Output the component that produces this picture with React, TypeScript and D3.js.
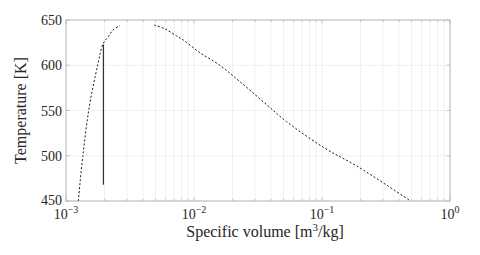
import React, { useEffect, useRef } from 'react';
import * as d3 from 'd3';

// saturated liquid branch [specific volume m3/kg, temperature K]
const liquidVol = [0.001248, 0.001351, 0.001521, 0.001769, 0.001956, 0.00214, 0.00233, 0.002643];
const liquidTemp = [450, 498.9, 554.2, 600.3, 624.3, 631.5, 639, 643.7];

// saturated vapour branch
const vaporVol = [0.00487, 0.005934, 0.007323, 0.008249, 0.01114, 0.01596, 0.02288, 0.03478, 0.05298, 0.1055, 0.1867, 0.487];
const vaporTemp = [644.5, 640.1, 632.3, 627.9, 613.8, 599.8, 581.8, 559.7, 537.6, 508.2, 488.7, 450.5];

// process line (isochoric)
const processVol = [0.00196, 0.00196];
const processTemp = [623, 468];

const yTicks = [450, 500, 550, 600, 650];
const xTickExps = [-3, -2, -1, 0];

const App: React.FC = () => {
  const ref = useRef<SVGSVGElement>(null);

  useEffect(() => {
    const margin = { top: 20, right: 30, bottom: 54, left: 66 };
    const width = 480 - margin.left - margin.right;
    const height = 255 - margin.top - margin.bottom;

    const root = d3.select(ref.current);
    root.selectAll('*').remove();
    root.attr('width', 480).attr('height', 255);

    const svg = root.append('g').attr('transform', `translate(${margin.left},${margin.top})`);

    const x = d3.scaleLog().domain([1e-3, 1]).range([0, width]);
    const y = d3.scaleLinear().domain([450, 650]).range([height, 0]);

    const minor: number[] = [];
    xTickExps.slice(0, -1).forEach(e => {
      for (let k = 2; k <= 9; k++) minor.push(k * Math.pow(10, e));
    });
    const major = xTickExps.map(e => Math.pow(10, e));

    // grid
    const grid = svg.append('g').attr('stroke', '#ececec').attr('stroke-width', 0.8);
    grid.selectAll('line.vx')
      .data([...minor, ...major])
      .join('line')
      .attr('x1', d => x(d)).attr('x2', d => x(d))
      .attr('y1', 0).attr('y2', height);
    grid.selectAll('line.hy')
      .data(yTicks)
      .join('line')
      .attr('x1', 0).attr('x2', width)
      .attr('y1', d => y(d)).attr('y2', d => y(d));

    // box + ticks
    const tickColor = '#b8b8b8';
    svg.append('rect')
      .attr('width', width).attr('height', height)
      .attr('fill', 'none').attr('stroke', tickColor).attr('stroke-width', 1);

    const ticks = svg.append('g').attr('stroke', tickColor).attr('stroke-width', 0.8);
    const xt = [...major.map(d => ({ v: d, l: 3.5 })), ...minor.map(d => ({ v: d, l: 2 }))];
    ticks.selectAll('line.xb').data(xt).join('line')
      .attr('x1', d => x(d.v)).attr('x2', d => x(d.v))
      .attr('y1', height).attr('y2', d => height - d.l);
    ticks.selectAll('line.xt').data(xt).join('line')
      .attr('x1', d => x(d.v)).attr('x2', d => x(d.v))
      .attr('y1', 0).attr('y2', d => d.l);
    ticks.selectAll('line.yl').data(yTicks).join('line')
      .attr('x1', 0).attr('x2', 3.5)
      .attr('y1', d => y(d)).attr('y2', d => y(d));
    ticks.selectAll('line.yr').data(yTicks).join('line')
      .attr('x1', width).attr('x2', width - 3.5)
      .attr('y1', d => y(d)).attr('y2', d => y(d));

    const font = '"Liberation Serif", "DejaVu Serif", serif';
    const txt = '#262626';

    // y tick labels
    svg.selectAll('text.yl').data(yTicks).join('text')
      .attr('x', -4).attr('y', d => y(d))
      .attr('dy', d => (d === 450 ? '0.25em' : '0.36em'))
      .attr('text-anchor', 'end')
      .attr('font-family', font).attr('font-size', 14).attr('fill', txt)
      .text(d => d);

    // x tick labels 10^e
    const xl = svg.selectAll('text.xl').data(xTickExps).join('text')
      .attr('x', d => x(Math.pow(10, d)))
      .attr('y', height + 18)
      .attr('text-anchor', 'middle')
      .attr('font-family', font).attr('font-size', 14).attr('fill', txt);
    xl.append('tspan').text('10');
    xl.append('tspan')
      .attr('font-size', 10).attr('dy', -6)
      .text(d => (d < 0 ? '\u2212' + -d : String(d)));

    // axis labels
    const xlab = svg.append('text')
      .attr('x', width / 2 + 7).attr('y', height + 36)
      .attr('text-anchor', 'middle')
      .attr('font-family', font).attr('font-size', 16).attr('fill', txt);
    xlab.append('tspan').text('Specific volume [m');
    xlab.append('tspan').attr('font-size', 11).attr('dy', -6).text('3');
    xlab.append('tspan').attr('dy', 6).text('/kg]');

    svg.append('text')
      .attr('transform', `translate(${-40},${height / 2}) rotate(-90)`)
      .attr('text-anchor', 'middle')
      .attr('font-family', font).attr('font-size', 16).attr('fill', txt)
      .text('Temperature [K]');

    const liquid = liquidVol.map((v, i) => [v, liquidTemp[i]] as [number, number]);
    const vapor = vaporVol.map((v, i) => [v, vaporTemp[i]] as [number, number]);
    const proc = processVol.map((v, i) => [v, processTemp[i]] as [number, number]);

    const curve = d3.line<[number, number]>()
      .x(d => x(d[0]))
      .y(d => y(d[1]))
      .curve(d3.curveCatmullRom);

    const plot = svg.append('g');
    [liquid, vapor].forEach(data => {
      plot.append('path')
        .attr('d', curve(data))
        .attr('fill', 'none')
        .attr('stroke', '#1a1a1a')
        .attr('stroke-width', 1)
        .attr('stroke-dasharray', '2,2');
    });

    plot.append('path')
      .attr('d', d3.line<[number, number]>().x(d => x(d[0])).y(d => y(d[1]))(proc))
      .attr('fill', 'none')
      .attr('stroke', '#333')
      .attr('stroke-width', 1.2);
  }, []);

  return <svg ref={ref} style={{ display: 'block', position: 'absolute', left: 0, top: 0 }} />;
};

export default App;
